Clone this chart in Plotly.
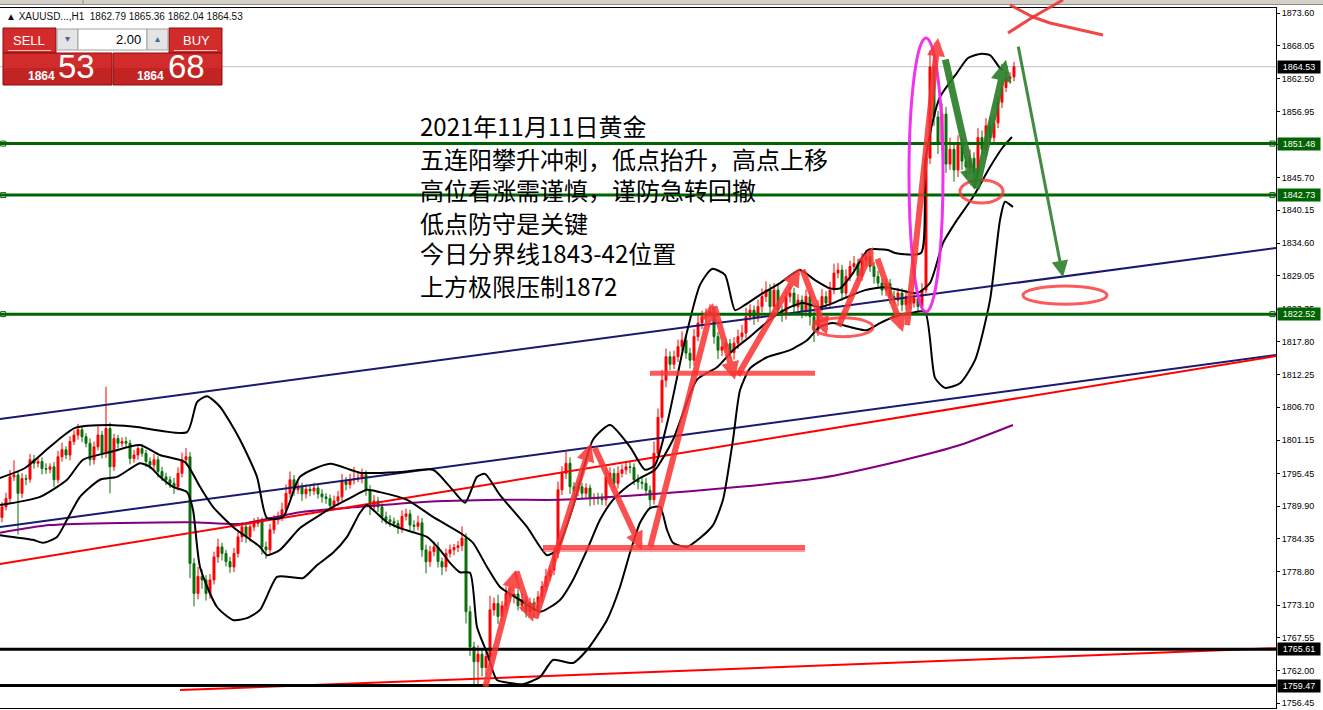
import plotly.graph_objects as go

# ---------------- data ----------------
first_open = 1788.0
closes = [
    1789.8, 1791.2, 1794.9, 1795.2, 1792.1, 1794.6, 1794.5, 1797.8, 1797.2, 1797.5,
    1796.3, 1796.2, 1796.6, 1794.4, 1798.3, 1799.5, 1798.6, 1800.9, 1802.0, 1802.9,
    1801.7, 1800.6, 1797.8, 1800.0, 1802.0, 1798.9, 1803.1, 1796.6, 1801.4, 1800.6,
    1800.9, 1800.6, 1798.0, 1798.6, 1799.7, 1798.9, 1797.5, 1796.9, 1797.8, 1795.8,
    1794.9, 1794.4, 1793.8, 1793.2, 1795.5, 1797.8, 1798.3, 1780.2, 1775.1, 1778.0,
    1777.4, 1775.1, 1777.4, 1781.3, 1783.0, 1781.9, 1780.5, 1779.6, 1781.9, 1784.7,
    1786.4, 1784.7, 1786.4, 1787.0, 1787.3, 1783.0, 1782.5, 1785.9, 1787.6, 1788.1,
    1789.3, 1792.1, 1794.4, 1792.7, 1793.2, 1792.0, 1792.8, 1792.5, 1793.0, 1792.0,
    1791.5, 1791.2, 1790.0, 1790.8, 1791.5, 1794.1, 1793.6, 1794.4, 1794.6, 1794.7,
    1795.3, 1792.7, 1789.8, 1790.8, 1789.8, 1788.1, 1787.6, 1787.3, 1787.0, 1786.2,
    1788.2, 1788.6, 1786.7, 1786.5, 1787.1, 1782.5, 1780.5, 1782.2, 1783.0, 1780.5,
    1779.6, 1781.9, 1782.5, 1782.9, 1783.2, 1784.5, 1772.0, 1766.0, 1763.5, 1764.8,
    1762.5, 1764.4, 1772.3, 1773.4, 1771.2, 1773.0, 1775.1, 1774.6, 1775.0, 1773.0,
    1774.0, 1772.0, 1773.5, 1772.3, 1774.5, 1776.3, 1778.0, 1779.1, 1781.9, 1792.7,
    1795.5, 1797.2, 1793.2, 1792.5, 1793.2, 1792.1, 1793.0, 1791.3, 1791.4, 1791.2,
    1791.0, 1794.9, 1795.5, 1793.8, 1795.5, 1796.1, 1796.6, 1796.5, 1794.4, 1794.0,
    1793.8, 1792.6, 1791.0, 1798.9, 1805.0, 1811.3, 1815.3, 1814.0, 1815.3, 1817.0,
    1818.1, 1815.9, 1814.7, 1818.7, 1821.0, 1822.1, 1822.7, 1823.0, 1818.7, 1816.4,
    1817.0, 1817.5, 1816.0, 1817.6, 1818.7, 1819.3, 1822.1, 1823.2, 1822.0, 1823.8,
    1825.5, 1826.6, 1823.8, 1826.6, 1823.2, 1822.5, 1825.5, 1826.1, 1823.8, 1824.9,
    1823.0, 1825.5, 1822.1, 1819.8, 1823.8, 1825.5, 1824.4, 1826.6, 1829.5, 1830.0,
    1826.1, 1828.9, 1830.6, 1831.1, 1829.0, 1831.7, 1832.3, 1830.6, 1828.9, 1827.8,
    1826.6, 1827.7, 1825.5, 1824.9, 1826.1, 1824.1, 1825.5, 1824.4, 1825.2, 1823.8,
    1826.6, 1849.0, 1864.5, 1856.0, 1851.5, 1856.5, 1848.0, 1850.5, 1847.0, 1851.5,
    1848.5, 1847.5, 1849.0, 1846.5, 1852.5, 1850.5, 1854.5, 1852.5, 1855.0, 1858.5,
    1861.0, 1862.5, 1862.79, 1864.53,
]
up_wick = [
    0.8, 1.0, 1.2, 2.5, 0.6, 0.9, 0.7, 1.0, 0.8, 0.6,
    0.7, 0.9, 0.6, 0.8, 1.0, 1.2, 0.6, 0.9, 0.8, 1.0,
    0.7, 0.6, 0.8, 0.9, 1.5, 0.7, 7.1, 1.0, 0.8, 0.6,
    0.7, 0.8, 0.6, 0.9, 0.7, 0.8, 0.6, 0.7, 1.0, 0.6,
    0.8, 0.7, 0.6, 0.9, 1.0, 1.2, 1.5, 0.8, 0.9, 1.6,
    1.2, 0.8, 1.0, 0.9, 1.4, 0.7, 0.6, 0.8, 0.9, 1.1,
    0.8, 0.7, 1.0, 0.9, 0.8, 0.7, 0.9, 1.0, 0.8, 0.9,
    1.2, 1.5, 1.4, 0.8, 0.9, 0.7, 0.8, 0.6, 0.9, 0.7,
    0.8, 0.6, 0.7, 0.9, 1.0, 1.3, 0.8, 1.0, 2.0, 0.9,
    1.0, 0.7, 0.8, 1.0, 0.7, 0.6, 0.9, 0.8, 0.7, 0.6,
    1.0, 0.9, 0.7, 0.8, 1.2, 0.8, 0.9, 1.0, 0.9, 0.8,
    0.7, 0.8, 0.9, 0.6, 0.8, 2.0, 0.8, 1.0, 0.9, 1.5,
    1.0, 1.2, 2.4, 1.0, 1.5, 0.8, 1.2, 0.9, 1.0, 0.8,
    1.2, 0.7, 0.9, 0.8, 1.0, 0.9, 1.3, 0.8, 1.0, 1.4,
    1.2, 2.0, 1.0, 0.8, 0.9, 0.7, 0.8, 0.6, 0.7, 0.8,
    0.9, 1.5, 1.0, 0.8, 1.2, 0.9, 1.0, 0.8, 0.7, 0.9,
    0.8, 0.9, 0.8, 2.0, 1.5, 1.8, 1.4, 0.9, 1.0, 1.2,
    1.5, 0.8, 0.9, 1.3, 1.4, 1.0, 0.8, 1.2, 0.9, 0.8,
    0.7, 0.9, 0.8, 1.0, 1.2, 1.4, 1.5, 1.0, 0.8, 1.2,
    1.4, 1.5, 1.0, 1.2, 0.9, 0.8, 1.0, 1.1, 0.9, 1.0,
    0.8, 1.2, 0.9, 1.0, 1.1, 1.3, 0.9, 1.4, 1.6, 1.2,
    0.9, 1.2, 1.0, 1.3, 0.8, 1.2, 1.1, 0.9, 0.8, 1.0,
    0.7, 0.9, 0.8, 1.0, 0.9, 0.8, 1.1, 0.7, 0.9, 0.8,
    1.2, 0.8, 2.8, 1.5, 1.0, 1.8, 1.2, 2.0, 1.0, 1.4,
    1.0, 0.9, 1.5, 1.0, 1.6, 1.2, 1.3, 1.5, 1.0, 1.2,
    1.0, 1.2, 0.8, 0.83,
]
down_wick = [
    0.8, 0.6, 0.9, 0.7, 7.0, 0.8, 1.0, 0.6, 0.9, 0.7,
    1.0, 0.8, 0.7, 1.2, 0.6, 0.8, 0.7, 0.9, 0.6, 0.8,
    0.9, 0.7, 1.0, 0.8, 0.6, 0.9, 0.8, 4.5, 0.7, 0.9,
    0.6, 0.8, 1.0, 0.7, 0.8, 0.6, 0.9, 0.7, 0.8, 1.0,
    0.7, 0.9, 0.8, 1.2, 0.6, 0.7, 0.8, 2.5, 2.2, 1.0,
    1.5, 1.2, 0.9, 0.8, 1.0, 1.2, 0.8, 1.0, 0.9, 0.7,
    0.9, 1.0, 0.8, 0.7, 0.6, 1.3, 1.5, 0.9, 0.7, 0.8,
    0.7, 0.9, 0.8, 1.0, 0.7, 1.2, 0.8, 0.9, 0.7, 0.8,
    1.0, 0.9, 0.8, 0.7, 0.9, 0.8, 1.0, 0.7, 0.8, 0.6,
    0.9, 1.0, 1.4, 0.8, 0.9, 1.0, 0.8, 0.9, 0.7, 1.0,
    0.8, 0.7, 0.9, 0.8, 0.7, 1.2, 2.0, 0.9, 0.8, 1.0,
    1.4, 0.8, 0.7, 0.9, 0.8, 0.9, 2.0, 1.5, 4.0, 4.0,
    1.5, 1.2, 0.9, 1.0, 1.3, 0.8, 0.9, 1.0, 1.2, 0.8,
    0.9, 1.0, 0.8, 1.2, 0.9, 1.0, 0.8, 0.7, 0.9, 0.8,
    0.9, 1.0, 1.2, 1.5, 0.9, 1.0, 0.8, 1.4, 1.2, 1.0,
    0.9, 1.0, 1.2, 0.8, 0.9, 0.7, 0.8, 1.0, 0.9, 1.2,
    1.0, 0.9, 1.5, 0.8, 1.0, 0.9, 1.2, 1.0, 0.8, 0.9,
    0.7, 1.0, 1.4, 0.9, 0.8, 1.0, 0.9, 0.7, 1.2, 1.5,
    1.0, 0.8, 0.9, 1.2, 1.0, 0.8, 0.9, 0.7, 1.3, 0.8,
    1.0, 0.9, 1.4, 1.2, 1.0, 1.3, 0.9, 1.0, 1.1, 0.8,
    1.2, 0.9, 1.5, 2.0, 1.0, 0.8, 0.9, 1.0, 0.7, 0.9,
    1.3, 1.0, 0.8, 0.9, 1.1, 0.8, 1.0, 0.9, 1.2, 1.0,
    0.9, 1.0, 1.2, 0.8, 1.0, 1.1, 0.9, 1.0, 0.8, 1.0,
    0.9, 0.6, 1.0, 1.5, 1.8, 1.2, 1.5, 1.0, 2.0, 1.2,
    1.5, 1.8, 1.2, 2.5, 1.5, 1.0, 1.2, 1.0, 0.8, 0.9,
    1.0, 0.8, 0.9, 0.75,
]

# Bollinger-style envelope curves (bar index, price)
bb_upper_x = [-0.5, 5.75, 12, 18.25, 27, 33.25, 46.25, 48.75, 51.25, 54.5, 59.5, 63.75, 66.25, 70.25, 74.5,
              82, 89.5, 99.5, 107.75, 112, 115.75, 118.75, 120.75, 124.5, 131.25, 136.25, 138.75, 142.75,
              147.75, 152, 157, 160.75, 163.25, 166.5, 170.75, 174.5, 177.5, 180.75, 183.25, 185.75, 189.5,
              194.5, 199.5, 203.25, 207, 209.5, 212.75, 216.5, 221.5, 223.25, 229.75, 230.75, 232.75, 234.5,
              238.75, 241.5, 244.5, 247, 249.5, 250.25]
bb_upper_y = [1794.7, 1796.4, 1800.0, 1803.2, 1803.7, 1803.4, 1802.5, 1807.6, 1808.6, 1806.8, 1801.2, 1794.9,
              1787.9, 1788.1, 1794.9, 1797.1, 1795.6, 1795.7, 1796.1, 1793.2, 1790.5, 1794.9, 1795.4, 1791.8,
              1786.4, 1781.6, 1782.5, 1789.8, 1801.2, 1803.7, 1800.0, 1796.1, 1796.9, 1804.6, 1818.1, 1827.5,
              1830.2, 1829.2, 1823.2, 1824.1, 1825.8, 1827.8, 1830.0, 1828.3, 1826.9, 1826.9, 1829.5, 1833.4,
              1833.4, 1832.9, 1832.9, 1848.2, 1855.5, 1859.4, 1863.5, 1866.0, 1866.7, 1866.5, 1864.3, 1864.0]
bb_mid_x = [-0.5, 9.5, 16.25, 20.25, 27, 34.5, 39.5, 45.75, 49.5, 52.75, 57.75, 64.5, 66.25, 69.5, 74.5,
            78.75, 82.75, 87, 91.25, 94.5, 101.25, 107.75, 114.5, 117.75, 121.25, 124.5, 129.5, 134.5, 139.5,
            142.75, 146.25, 149.5, 152.75, 156.25, 159.5, 163.25, 167.75, 173.75, 178.75, 182.75, 187, 192.75,
            197, 200.25, 204.5, 207.75, 211.25, 215.75, 220.75, 224.5, 228.75, 232, 235.25, 238.75, 242.75,
            247, 250.25, 252.5]
bb_mid_y = [1790.1, 1791.5, 1794.4, 1797.8, 1799.1, 1800.3, 1798.6, 1797.4, 1793.2, 1789.8, 1786.4, 1783.0,
            1781.6, 1782.5, 1786.2, 1788.1, 1789.8, 1791.3, 1792.7, 1792.3, 1791.0, 1788.1, 1785.4, 1783.7,
            1779.6, 1776.2, 1774.0, 1772.0, 1774.0, 1777.4, 1782.5, 1787.6, 1791.0, 1793.2, 1794.7, 1796.1,
            1801.2, 1811.4, 1813.5, 1816.4, 1818.7, 1822.0, 1823.7, 1824.4, 1823.7, 1824.4, 1825.4, 1826.6,
            1827.1, 1826.6, 1826.1, 1827.8, 1834.6, 1838.5, 1842.4, 1847.5, 1850.9, 1852.6]
bb_low_x = [-0.5, 7.75, 10.25, 13.75, 16.25, 19.5, 24.5, 28.75, 32.75, 34.5, 37, 39.5, 42.75, 46.25, 47.75,
            49.5, 53.75, 57.75, 61.25, 64.5, 68.75, 72, 75.25, 78.75, 82.75, 86.25, 89.5, 91.25, 92.75, 96.25,
            99.5, 102.75, 106.25, 109.5, 112, 114.5, 117, 118.75, 121.25, 123.75, 127, 130.25, 134.5, 137.75,
            142.75, 146.25, 151.25, 154.5, 157, 159.5, 162, 164.5, 166.25, 167.75, 171.25, 174.5, 177.75,
            180.25, 182.75, 184.5, 187, 191.25, 197, 201.25, 204.5, 207.75, 212.75, 216.25, 219.5, 222.75,
            227, 230.75, 233.25, 235.75, 239.5, 243.25, 247, 249.5, 250.75, 252.75]
bb_low_y = [1785.0, 1784.2, 1783.7, 1784.7, 1787.6, 1791.5, 1794.4, 1794.9, 1796.6, 1797.2, 1796.6, 1794.9,
            1793.2, 1792.3, 1789.3, 1779.6, 1772.8, 1770.6, 1770.9, 1772.3, 1777.9, 1777.9, 1777.7, 1779.9,
            1782.0, 1784.7, 1788.8, 1790.1, 1789.3, 1787.2, 1786.2, 1785.5, 1784.7, 1782.5, 1780.3, 1778.7,
            1778.6, 1769.4, 1765.0, 1760.4, 1759.9, 1759.7, 1760.9, 1763.8, 1763.3, 1765.5, 1770.6, 1776.2,
            1782.0, 1787.1, 1789.6, 1789.8, 1785.9, 1783.7, 1783.0, 1784.5, 1786.7, 1791.0, 1801.2, 1809.6,
            1813.3, 1815.2, 1816.4, 1818.1, 1820.4, 1821.0, 1820.2, 1819.8, 1821.0, 1822.0, 1822.7, 1822.9,
            1811.7, 1810.0, 1810.8, 1814.7, 1824.9, 1838.5, 1841.6, 1840.7]

# slow moving average (purple)
ma_x = [-0.5, 12, 47, 59.5, 74.5, 89.5, 104.5, 124.5, 139.5, 159.5, 184.5, 204.5, 224.5, 239.5, 252.75]
ma_y = [1785.4, 1786.7, 1787.2, 1786.9, 1788.9, 1789.8, 1790.6, 1791.0, 1791.0, 1791.8, 1793.2, 1794.7,
        1797.6, 1800.3, 1803.7]

# trend lines (two end points each)
navy_top_x, navy_top_y = [-0.5, 318.5], [1804.7, 1833.75]
navy_low_x, navy_low_y = [-0.5, 318.5], [1786.4, 1815.6]
red_up_x, red_up_y = [-0.5, 318.5], [1780.1, 1815.4]
red_low_x, red_low_y = [44.5, 318.5], [1758.7, 1765.8]

green_levels = [1851.48, 1842.73, 1822.52]
black_levels = [1765.61, 1759.47]
last_price = 1864.53
tick_vals = [1873.60, 1868.05, 1862.50, 1856.95, 1851.40, 1845.70, 1840.15, 1834.60, 1829.05, 1823.35,
             1817.80, 1812.25, 1806.70, 1801.15, 1795.45, 1789.90, 1784.35, 1778.80, 1773.10, 1767.55,
             1762.00, 1756.45]

text_lines = [
    "2021年11月11日黄金",
    "五连阳攀升冲刺，低点抬升，高点上移",
    "高位看涨需谨慎，谨防急转回撤",
    "低点防守是关键",
    "今日分界线1843-42位置",
    "上方极限压制1872",
]
header_text = "▲ XAUUSD...,H1  1862.79 1865.36 1862.04 1864.53"

# hand-drawn arrows: (tail bar, tail price, head bar, head price)
red_arrows = [
    (120.75, 1759.0, 128.5, 1779.1),
    (128.5, 1779.1, 132.75, 1770.3),
    (133.25, 1770.6, 147.25, 1800.6),
    (148.0, 1800.1, 160.0, 1782.5),
    (162.0, 1782.8, 177.75, 1824.4),
    (178.0, 1824.1, 183.25, 1811.4),
    (183.75, 1811.9, 199.5, 1830.3),
    (200.0, 1830.3, 206.25, 1819.0),
    (209.0, 1820.2, 217.75, 1833.9),
    (218.75, 1832.2, 225.25, 1819.5),
    (226.25, 1820.4, 234.0, 1869.4),
]
green_arrows = [
    (235.75, 1866.0, 243.25, 1843.6),
    (243.5, 1843.6, 251.0, 1865.7),
]
thin_green_arrow = (254.0, 1868.2, 265.25, 1828.8)

# ---------------- figure ----------------
n = len(closes)
bars = list(range(n))
opens = [first_open] + closes[:-1]
highs = [max(o, c) + w for o, c, w in zip(opens, closes, up_wick)]
lows = [min(o, c) - w for o, c, w in zip(opens, closes, down_wick)]

RED = "#FF0000"
GREEN_C = "#0A6E0A"
DKGREEN = "#006400"
NAVY = "#191970"

fig = go.Figure()

fig.add_trace(go.Candlestick(
    x=bars, open=opens, high=highs, low=lows, close=closes,
    increasing=dict(line=dict(color=RED, width=1), fillcolor=RED),
    decreasing=dict(line=dict(color=GREEN_C, width=1), fillcolor=GREEN_C),
    whiskerwidth=0, hoverinfo="skip", showlegend=False,
))

def add_line(xs, ys, color, width, shape="linear"):
    fig.add_trace(go.Scatter(x=xs, y=ys, mode="lines",
                             line=dict(color=color, width=width, shape=shape, smoothing=0.6),
                             hoverinfo="skip", showlegend=False))

add_line(ma_x, ma_y, "#800080", 2, "spline")
add_line(navy_top_x, navy_top_y, NAVY, 2)
add_line(navy_low_x, navy_low_y, NAVY, 2)
add_line(red_up_x, red_up_y, RED, 2)
add_line(red_low_x, red_low_y, RED, 2)
add_line(bb_upper_x, bb_upper_y, "black", 2, "spline")
add_line(bb_mid_x, bb_mid_y, "black", 2, "spline")
add_line(bb_low_x, bb_low_y, "black", 2, "spline")

# square end markers of horizontal level lines
fig.add_trace(go.Scatter(
    x=[0.3] * len(green_levels) + [317.6] * len(green_levels),
    y=green_levels + green_levels, mode="markers",
    marker=dict(symbol="square", size=5, color="white", line=dict(color=DKGREEN, width=1)),
    hoverinfo="skip", showlegend=False, cliponaxis=False))

def px_x(p):
    return p / 1276.0

def px_y(p):
    return (708.0 - p) / 700.0

shapes = []
# top grey strip
shapes.append(dict(type="rect", xref="paper", yref="paper", x0=0, x1=1323 / 1276, y0=px_y(4.5), y1=px_y(0),
                   fillcolor="#D4D0C8", line=dict(width=0), layer="above"))
shapes.append(dict(type="line", xref="paper", yref="paper", x0=0, x1=1323 / 1276, y0=px_y(4.5), y1=px_y(4.5),
                   line=dict(color="#8C8C8C", width=1), layer="above"))
shapes.append(dict(type="line", xref="paper", yref="paper", x0=px_x(83), x1=px_x(83), y0=px_y(4.5), y1=px_y(0),
                   line=dict(color="#8C8C8C", width=1), layer="above"))
# bid line
shapes.append(dict(type="line", xref="paper", yref="y", x0=0, x1=1, y0=last_price, y1=last_price,
                   line=dict(color="#C0C0C0", width=1), layer="below"))
for lv in green_levels:
    shapes.append(dict(type="line", xref="paper", yref="y", x0=0, x1=1, y0=lv, y1=lv,
                       line=dict(color=DKGREEN, width=3), layer="above"))
for lv in black_levels:
    shapes.append(dict(type="line", xref="paper", yref="y", x0=0, x1=1, y0=lv, y1=lv,
                       line=dict(color="black", width=3), layer="above"))

# hand-drawn red strokes
RED_PEN = "rgba(250,55,55,0.82)"
shapes.append(dict(type="line", xref="x", yref="y", x0=135.25, x1=200.75, y0=1782.9, y1=1782.9,
                   line=dict(color=RED_PEN, width=5), layer="above"))
shapes.append(dict(type="line", xref="x", yref="y", x0=135.25, x1=200.75, y0=1782.4, y1=1782.4,
                   line=dict(color="rgba(250,55,55,0.5)", width=3), layer="above"))
shapes.append(dict(type="line", xref="x", yref="y", x0=162, x1=203.25, y0=1812.5, y1=1812.5,
                   line=dict(color=RED_PEN, width=5), layer="above"))
# ellipses
shapes.append(dict(type="circle", xref="x", yref="y", x0=202.75, x1=217.75, y0=1818.7, y1=1821.9,
                   line=dict(color=RED_PEN, width=3), layer="above"))
shapes.append(dict(type="circle", xref="x", yref="y", x0=239.5, x1=250.25, y0=1841.4, y1=1845.3,
                   line=dict(color=RED_PEN, width=3), layer="above"))
shapes.append(dict(type="circle", xref="x", yref="y", x0=255.25, x1=276.25, y0=1824.2, y1=1827.3,
                   line=dict(color=RED_PEN, width=3), layer="above"))
shapes.append(dict(type="circle", xref="x", yref="y", x0=226.75, x1=235.25, y0=1822.9, y1=1869.4,
                   line=dict(color="rgba(238,40,238,0.95)", width=3), layer="above"))
# red cross at top
def path(pts):
    return "M " + " L ".join(f"{px_x(a):.5f},{px_y(b):.5f}" for a, b in pts)
shapes.append(dict(type="path", xref="paper", yref="paper",
                   path=path([(1010, 5), (1033, 17), (1050, 23), (1103, 35)]),
                   line=dict(color="rgba(240,50,50,0.9)", width=3), layer="above"))
shapes.append(dict(type="path", xref="paper", yref="paper",
                   path=path([(1063, 0), (1033, 17), (1008, 33)]),
                   line=dict(color="rgba(240,50,50,0.9)", width=3), layer="above"))

# one-click trading panel
BTN = "#D22B2B"
BTN_LINE = "#8E0F0F"
def rect(x0, y0, x1, y1, fill, line_color, lw=1):
    shapes.append(dict(type="rect", xref="paper", yref="paper", x0=px_x(x0), x1=px_x(x1),
                       y0=px_y(y1), y1=px_y(y0), fillcolor=fill, line=dict(color=line_color, width=lw),
                       layer="above"))
rect(3, 28, 56, 53, BTN, BTN_LINE)
rect(3, 53, 112, 85, BTN, BTN_LINE)
rect(169, 28, 222, 53, BTN, BTN_LINE)
rect(113, 53, 222, 85, BTN, BTN_LINE)
rect(3, 68, 112, 85, "rgba(120,0,0,0.18)", "rgba(0,0,0,0)", 0)
rect(113, 68, 222, 85, "rgba(120,0,0,0.18)", "rgba(0,0,0,0)", 0)
rect(57, 29, 78, 50, "#E4E4E4", "#A0A0A0")
rect(78, 29, 147, 50, "white", "#A0A0A0")
rect(147, 29, 168, 50, "#E4E4E4", "#A0A0A0")
shapes.append(dict(type="line", xref="paper", yref="paper", x0=px_x(8), x1=px_x(51), y0=px_y(50.5),
                   y1=px_y(50.5), line=dict(color="rgba(255,255,255,0.7)", width=1), layer="above"))
shapes.append(dict(type="line", xref="paper", yref="paper", x0=px_x(174), x1=px_x(217), y0=px_y(50.5),
                   y1=px_y(50.5), line=dict(color="rgba(255,255,255,0.7)", width=1), layer="above"))

annotations = []
# arrows
for tb, tp, hb, hp in red_arrows:
    annotations.append(dict(x=hb, y=hp, ax=tb, ay=tp, xref="x", yref="y", axref="x", ayref="y",
                            text="", showarrow=True, arrowhead=2, arrowsize=0.6, arrowwidth=6,
                            arrowcolor="rgba(250,50,50,0.85)", standoff=0, startstandoff=0))
for tb, tp, hb, hp in green_arrows:
    annotations.append(dict(x=hb, y=hp, ax=tb, ay=tp, xref="x", yref="y", axref="x", ayref="y",
                            text="", showarrow=True, arrowhead=2, arrowsize=0.6, arrowwidth=7,
                            arrowcolor="rgba(40,125,40,0.9)", standoff=0, startstandoff=0))
tb, tp, hb, hp = thin_green_arrow
annotations.append(dict(x=hb, y=hp, ax=tb, ay=tp, xref="x", yref="y", axref="x", ayref="y",
                        text="", showarrow=True, arrowhead=2, arrowsize=1.1, arrowwidth=3,
                        arrowcolor="rgba(40,125,40,0.88)", standoff=0, startstandoff=0))

# chart comment text
for i, line in enumerate(text_lines):
    yc = [125, 158, 189, 222, 253, 285][i]
    annotations.append(dict(xref="paper", yref="paper", x=px_x(418), y=px_y(yc), xanchor="left",
                            yanchor="middle", text=line, showarrow=False,
                            font=dict(family="Noto Sans CJK SC", size=24, color="black")))

annotations.append(dict(xref="paper", yref="paper", x=px_x(4), y=px_y(16.5), xanchor="left",
                        yanchor="middle", text=header_text, showarrow=False,
                        font=dict(family="Liberation Sans", size=10, color="#101010")))

# panel texts
def ptxt(x, y, t, size, color="white", anchor="center", bold=False, family="Liberation Sans"):
    if bold:
        t = "<b>" + t + "</b>"
    annotations.append(dict(xref="paper", yref="paper", x=px_x(x), y=px_y(y), xanchor=anchor,
                            yanchor="middle", text=t, showarrow=False,
                            font=dict(family=family, size=size, color=color)))
ptxt(29, 40, "SELL", 13)
ptxt(196, 40, "BUY", 13)
ptxt(143, 39.5, "2.00", 13, color="black", anchor="right")
ptxt(67.5, 39, "▾", 10, color="#4A64A8")
ptxt(157.5, 39, "▴", 10, color="#4A64A8")
ptxt(41, 76, "1864", 12, bold=True)
ptxt(76, 66, "53", 33)
ptxt(150, 76, "1864", 12, bold=True)
ptxt(186, 66, "68", 33)

# price labels on the axis
def price_label(price, bg):
    annotations.append(dict(xref="paper", yref="y", x=1277 / 1276, y=price, xanchor="left",
                            yanchor="middle", text=f"{price:.2f}", showarrow=False, bgcolor=bg,
                            width=42, height=12, borderpad=0, align="center",
                            font=dict(family="Liberation Sans", size=9, color="white")))
for lv in green_levels:
    price_label(lv, DKGREEN)
for lv in black_levels:
    price_label(lv, "black")
price_label(last_price, "black")

fig.update_layout(
    width=1323, height=710,
    margin=dict(l=0, r=47, t=8, b=2),
    paper_bgcolor="white", plot_bgcolor="white",
    showlegend=False,
    shapes=shapes, annotations=annotations,
    xaxis=dict(range=[-0.5, 318.5], showgrid=False, zeroline=False, showticklabels=False,
               showline=True, mirror=True, linecolor="black", linewidth=1,
               rangeslider=dict(visible=False), fixedrange=True),
    yaxis=dict(side="right", range=[1755.65, 1874.5], tickvals=tick_vals,
               ticktext=[f"{v:.2f}" for v in tick_vals], ticks="outside", ticklen=3,
               tickcolor="black", showgrid=False, zeroline=False, showline=True,
               linecolor="black", linewidth=1, fixedrange=True,
               tickfont=dict(family="Liberation Sans", size=9, color="black")),
)

fig.write_html(
    "out.html",
    config={"displayModeBar": False},
    post_script="document.body.style.margin='0';document.body.style.overflow='hidden';",
)
